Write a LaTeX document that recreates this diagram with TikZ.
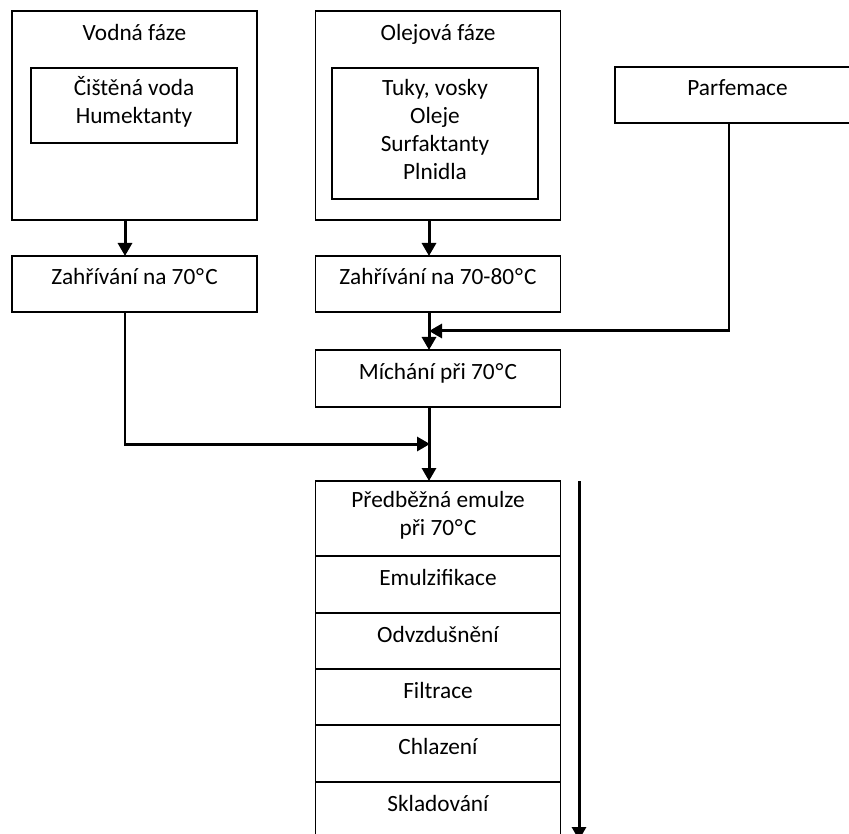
\documentclass[tikz,border=0pt]{standalone}
\usepackage{fontspec}
\setmainfont{Carlito}
\usetikzlibrary{arrows.meta}
\newcommand{\degC}{\kern0.8pt°\kern1.2pt C}
\begin{document}
\begin{tikzpicture}[x=1pt,y=-1pt,
  box/.style={draw,line width=1.4pt,inner sep=0pt,outer sep=0pt,minimum width=245pt},
  txt/.style={anchor=base,inner sep=0pt,font=\fontsize{23.3}{28}\selectfont},
  mtxt/.style={anchor=north,inner sep=0pt,align=center,font=\fontsize{23.3}{28}\selectfont},
  thickarrow/.style={line width=3pt,-{Triangle[length=13pt,width=14pt]}},
  thinline/.style={line width=1.5pt},
  thickline/.style={line width=3pt}]
\useasboundingbox (0,0) rectangle (849,834);
\clip (0,0) rectangle (849,834);
% top boxes
\node[box,minimum height=209pt] (vf) at (134.5,115.5) {};
\node[box,minimum width=206pt,minimum height=75pt] (vfin) at (134,105.5) {};
\node[txt] (vft) at (134.5,41) {Vodná fáze};
\node[txt] (vfa) at (134,96) {Čištěná voda};
\node[txt] (vfb) at (134,124) {Humektanty};

\node[box,minimum height=209pt] (of) at (438,115.5) {};
\node[box,minimum width=206pt,minimum height=131pt] (ofin) at (435,133.5) {};
\node[txt] (oft) at (438,41) {Olejová fáze};
\node[txt] (ofa) at (435,96) {Tuky, vosky};
\node[txt] (ofb) at (435,124) {Oleje};
\node[txt] (ofc) at (435,152) {Surfaktanty};
\node[txt] (ofd) at (435,180) {Plnidla};

\node[box,minimum height=56pt] (pf) at (737.5,95) {};
\node[txt] (pft) at (737.5,96) {Parfemace};

% heating boxes
\node[box,minimum height=56pt] (zv) at (134.5,284) {};
\node[txt] (zvt) at (134.5,285) {Zahřívání na 70\degC};
\node[box,minimum height=56pt] (zo) at (438,284) {};
\node[txt] (zot) at (438,285) {Zahřívání na 70-80\degC};

% mixing
\node[box,minimum height=57pt] (mi) at (438,378.5) {};
\node[txt] (mit) at (438,380) {Míchání při 70\degC};

% stack
\node[box,minimum height=75pt] (s1) at (438,518.5) {};
\node[mtxt] (s1t) at (438,491) {Předběžná emulze\\při 70\degC};
\node[box,minimum height=57pt] (s2) at (438,584.5) {};
\node[txt] (s2t) at (438,585) {Emulzifikace};
\node[box,minimum height=56pt] (s3) at (438,641) {};
\node[txt] (s3t) at (438,642) {Odvzdušnění};
\node[box,minimum height=56pt] (s4) at (438,697) {};
\node[txt] (s4t) at (438,698) {Filtrace};
\node[box,minimum height=57pt] (s5) at (438,753.5) {};
\node[txt] (s5t) at (438,754) {Chlazení};
\node[box,minimum height=58pt] (s6) at (438,811) {};
\node[txt] (s6t) at (438,811) {Skladování};

% connectors
\draw[thickarrow] ([xshift=-9.5pt]vf.south) -- ([xshift=-9.5pt]zv.north);
\draw[thickarrow] ([xshift=-9pt]of.south) -- ([xshift=-9pt]zo.north);
\draw[thickarrow] ([xshift=-9pt]zo.south) -- ([xshift=-9pt]mi.north);
\coordinate (pj) at (729,331);
\coordinate (mj) at (429,331);
\draw[thinline] ([xshift=-8.5pt]pf.south) -- ([yshift=0.75pt]pj);
\draw[thickline,-{Triangle[length=13pt,width=14pt]}] ([xshift=0.75pt]pj) -- (mj);
\coordinate (lj) at (125,444);
\coordinate (sj) at (430,444);
\draw[thinline] ([xshift=-9.5pt]zv.south) -- ([yshift=-0.75pt]lj);
\draw[thickline,-{Triangle[length=13pt,width=14pt]}] ([xshift=-0.75pt]lj) -- (sj);
\draw[thickarrow] ([xshift=-9pt]mi.south) -- ([xshift=-9pt]s1.north);
\coordinate (fa) at (579,481);
\coordinate (fb) at (579,840);
\draw[thickarrow] (fa) -- (fb);
\end{tikzpicture}
\end{document}
